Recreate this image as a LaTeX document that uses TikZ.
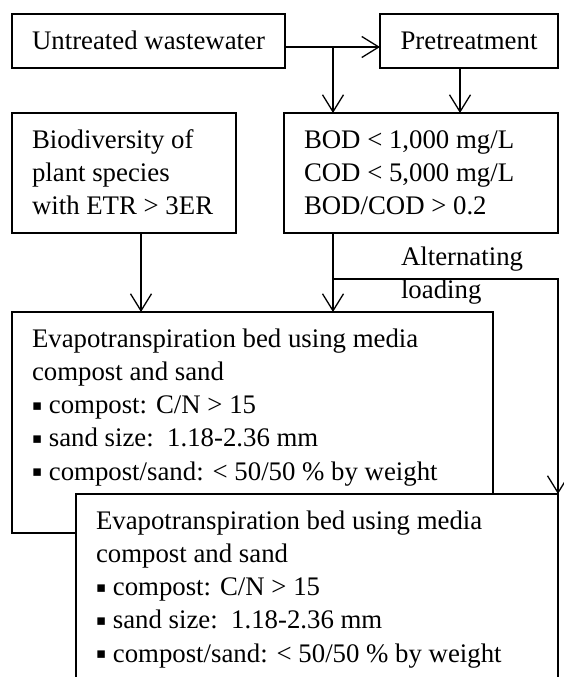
\documentclass[tikz,border=0pt]{standalone}
\usepackage{fontspec}
\setmainfont{Liberation Serif}
\newfontfamily\bulfont{DejaVu Sans}
\usetikzlibrary{arrows.meta}
\newcommand{\bul}{\raisebox{3.5pt}{\bulfont\fontsize{15}{15}\selectfont ▪}}
\newcommand{\bx}[3]{\parbox[c][#2][t]{#1}{\setlength{\parindent}{0pt}\setlength{\parskip}{0pt}\raggedright #3}}
\tikzset{
  box/.style={draw, line width=1.3pt, fill=white, anchor=north west, inner xsep=20pt, inner ysep=11.7pt, outer sep=0pt},
  onebox/.style={draw, line width=1.3pt, fill=white, anchor=north west, inner sep=0pt, outer sep=0pt, text height=18pt, text depth=0pt},
  arr/.style={line width=1.3pt, -{Straight Barb[length=17pt,width=21pt,line width=1.3pt]}},
  lbl/.style={anchor=north west, inner sep=0pt, outer sep=0pt, align=left}
}
\begin{document}
\begin{tikzpicture}[x=1pt, y=-1pt, font=\fontsize{26.8}{33.3}\selectfont]
\clip (0,0) rectangle (564,677);
\fill[white] (0,0) rectangle (564,677);
\node[onebox, minimum width=273pt, minimum height=54pt] (u) at (12,14) {Untreated wastewater};
\node[onebox, minimum width=178pt, minimum height=54pt] (p) at (380,14) {Pretreatment};
\node[box] (bio) at (12,113) {\bx{184pt}{96.6pt}{\strut Biodiversity of\\\strut plant species\\\strut with ETR > 3ER}};
\node[box] (bod) at (284,113) {\bx{234pt}{96.6pt}{\strut BOD < 1,000 mg/L\\\strut COD < 5,000 mg/L\\\strut BOD/COD > 0.2}};
\node[box] (e1) at (12,312) {\bx{441pt}{197.6pt}{\strut Evapotranspiration bed using media\\\strut compost and sand\\\strut \bul\ compost: C/N > 15\\\strut \bul\ sand size:\ \ 1.18-2.36 mm\\\strut \bul\ compost/sand: < 50/50 \% by weight}};
\node[box] (e2) at (76,494) {\bx{442pt}{196.6pt}{\strut Evapotranspiration bed using media\\\strut compost and sand\\\strut \bul\ compost: C/N > 15\\\strut \bul\ sand size:\ \ 1.18-2.36 mm\\\strut \bul\ compost/sand: < 50/50 \% by weight}};
\coordinate (j1) at (333,47);
\coordinate (j2) at (333,279);
\draw[arr] (u.east |- j1) -- (p.west |- j1);
\draw[arr] (j1) -- (j1 |- bod.north);
\draw[arr] ([xshift=-9pt]p.south) -- ([xshift=-9pt]p.south |- bod.north);
\draw[arr] ([xshift=17pt]bio.south) -- ([xshift=17pt]bio.south |- e1.north);
\draw[arr] (j1 |- bod.south) -- (j1 |- e1.north);
\draw[arr] (j2) -| (e2.north east);
\node[lbl] (alt) at (401,241.7) {\strut Alternating\\\strut loading};
\end{tikzpicture}
\end{document}
